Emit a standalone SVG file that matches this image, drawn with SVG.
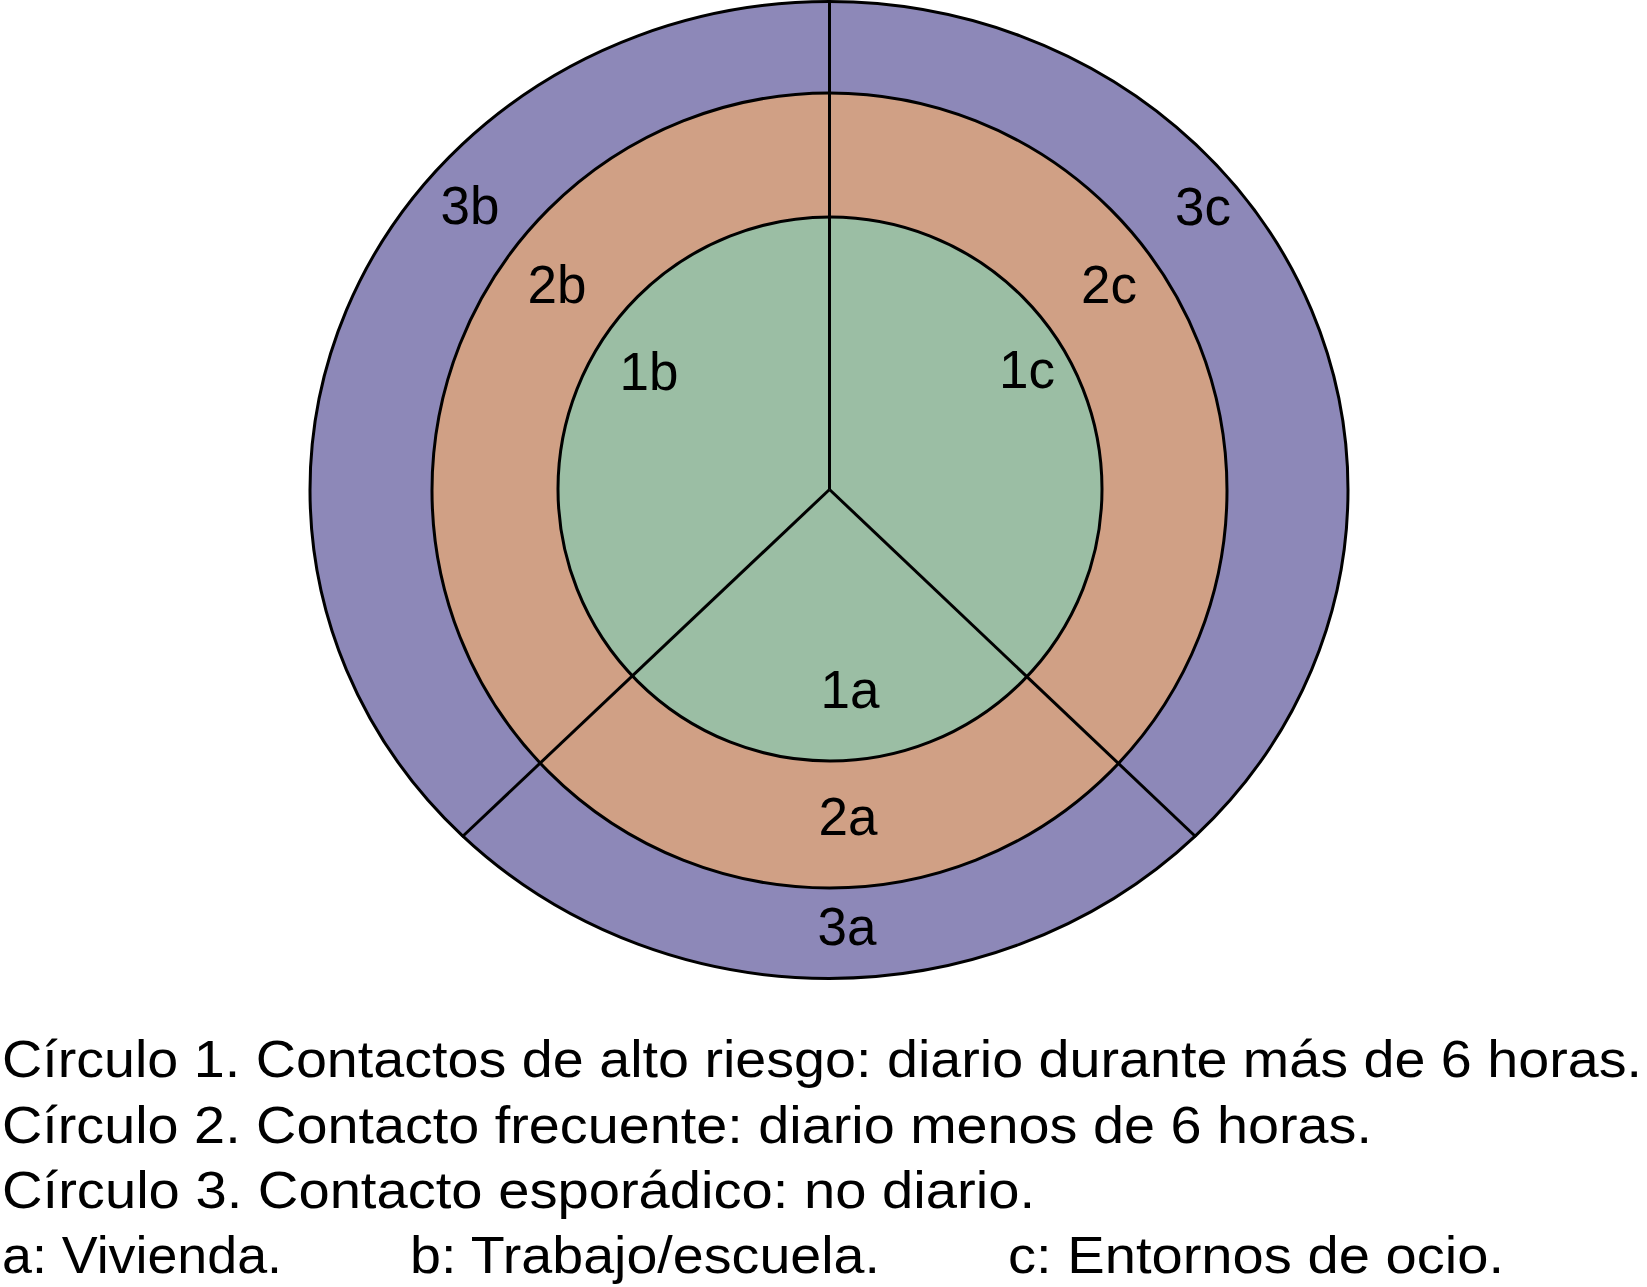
<svg xmlns="http://www.w3.org/2000/svg" width="1647" height="1287" viewBox="0 0 1647 1287">
<style>
.ring{stroke:#000;stroke-width:3}
.r3{fill:#8D88B8}
.r2{fill:#D0A085}
.r1{fill:#9BBEA4}
.lbl{font-family:"Liberation Sans",Arial,sans-serif;font-size:53px;fill:#000;text-anchor:middle}
.leg{font-family:"Liberation Sans",Arial,sans-serif;font-size:52px;fill:#000}
.div{stroke:#000;stroke-width:3;fill:none}
</style>
<rect width="1647" height="1287" fill="#fff"/>
<g id="circle3">
<ellipse class="ring r3" cx="829" cy="490" rx="519" ry="488.5"/>
</g>
<g id="circle2">
<circle class="ring r2" cx="829.5" cy="490.5" r="397.5"/>
</g>
<g id="circle1">
<circle class="ring r1" cx="830" cy="489" r="272"/>
</g>
<g id="connectors">
<line class="div" x1="829.5" y1="489.5" x2="829.5" y2="0"/>
<line class="div" x1="829.5" y1="489.5" x2="462" y2="837"/>
<line class="div" x1="829.5" y1="489.5" x2="1196" y2="837"/>
</g>
<g id="labels">
<text class="lbl" x="470" y="224">3b</text>
<text class="lbl" x="557" y="303">2b</text>
<text class="lbl" x="649" y="390">1b</text>
<text class="lbl" x="1203" y="225">3c</text>
<text class="lbl" x="1109" y="303">2c</text>
<text class="lbl" x="1027" y="388">1c</text>
<text class="lbl" x="850" y="708">1a</text>
<text class="lbl" x="848" y="835">2a</text>
<text class="lbl" x="847" y="945">3a</text>
</g>
<g id="legend">
<text class="leg" x="2" y="1077" textLength="1640" lengthAdjust="spacingAndGlyphs">Círculo 1. Contactos de alto riesgo: diario durante más de 6 horas.</text>
<text class="leg" x="2" y="1143" textLength="1370" lengthAdjust="spacingAndGlyphs">Círculo 2. Contacto frecuente: diario menos de 6 horas.</text>
<text class="leg" x="2" y="1208" textLength="1033" lengthAdjust="spacingAndGlyphs">Círculo 3. Contacto esporádico: no diario.</text>
<text class="leg" x="2" y="1273" textLength="280" lengthAdjust="spacingAndGlyphs">a: Vivienda.</text>
<text class="leg" x="410" y="1273" textLength="470" lengthAdjust="spacingAndGlyphs">b: Trabajo/escuela.</text>
<text class="leg" x="1008" y="1273" textLength="496" lengthAdjust="spacingAndGlyphs">c: Entornos de ocio.</text>
</g>
</svg>
